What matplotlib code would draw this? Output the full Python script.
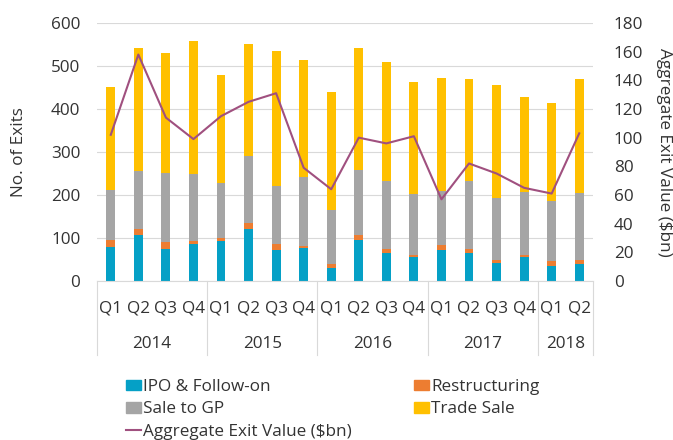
import matplotlib
matplotlib.use("Agg")
import matplotlib.pyplot as plt
from matplotlib.patches import Patch
from matplotlib.lines import Line2D

plt.rcParams['font.family'] = ['Open Sans', 'DejaVu Sans']
plt.rcParams['font.size'] = 12.3

# Quarterly exits by type (No. of exits) and aggregate value ($bn)
quarters = ['Q1', 'Q2', 'Q3', 'Q4'] * 4 + ['Q1', 'Q2']
years = ['2014', '2015', '2016', '2017', '2018']
year_sizes = [4, 4, 4, 4, 2]

ipo = [79, 108, 75, 85, 94, 122, 71, 77, 31, 96, 66, 55, 71, 65, 43, 56, 36, 40]
restructuring = [17, 14, 16, 9, 6, 12, 14, 5, 8, 10, 8, 5, 13, 9, 5, 4, 10, 8]
sale_to_gp = [115, 133, 160, 156, 129, 156, 135, 160, 127, 151, 159, 143, 125, 158, 146, 148, 141, 157]
trade_sale = [239, 288, 280, 309, 251, 262, 315, 273, 274, 285, 277, 260, 262, 237, 262, 220, 226, 265]
exit_value = [102, 158, 114, 99, 115, 125, 131, 79, 64, 100, 96, 101, 57, 82, 75, 65, 61, 103]

c_ipo = '#05A0C6'
c_restr = '#ED7D31'
c_gp = '#A5A5A5'
c_trade = '#FFC000'
c_line = '#A0507F'
txt = '#333333'
grid_c = '#D9D9D9'

fig = plt.figure(figsize=(6.73, 4.4), dpi=100)
ax = fig.add_axes([97 / 673, 1 - 281 / 440, 496 / 673, 258 / 440])

x = list(range(len(quarters)))
w = 0.32
b1 = ipo
b2 = [a + b for a, b in zip(b1, restructuring)]
b3 = [a + b for a, b in zip(b2, sale_to_gp)]
ax.bar(x, ipo, w, color=c_ipo, zorder=2)
ax.bar(x, restructuring, w, bottom=b1, color=c_restr, zorder=2)
ax.bar(x, sale_to_gp, w, bottom=b2, color=c_gp, zorder=2)
ax.bar(x, trade_sale, w, bottom=b3, color=c_trade, zorder=2)

ax.set_xlim(-0.5, len(x) - 0.5)
ax.set_ylim(0, 600)
ax.set_yticks(range(0, 601, 100))
ax.yaxis.grid(True, color=grid_c, linewidth=0.8, zorder=0)
ax.set_axisbelow(True)
for s in ['top', 'left', 'right']:
    ax.spines[s].set_visible(False)
ax.spines['bottom'].set_color(grid_c)
ax.spines['bottom'].set_linewidth(0.8)
ax.tick_params(axis='y', length=0, pad=12, colors=txt)
ax.set_xticks(x, quarters)
ax.tick_params(axis='x', length=0, pad=14.3, colors=txt)
ax.set_ylabel('No. of Exits', color=txt, labelpad=17)

# year groups below the quarter labels
trans = ax.get_xaxis_transform()
start = -0.5
ax.plot([start, start], [0, -0.287], color=grid_c, lw=0.8, transform=trans, clip_on=False)
for yr, n in zip(years, year_sizes):
    end = start + n
    ax.text((start + end) / 2, -0.243, yr, ha='center', va='center', color=txt, transform=trans)
    ax.plot([end, end], [0, -0.287], color=grid_c, lw=0.8, transform=trans, clip_on=False)
    start = end

ax2 = ax.twinx()
ax2.plot(x, exit_value, color=c_line, linewidth=1.5, zorder=3)
ax2.set_ylim(0, 180)
ax2.set_yticks(range(0, 181, 20))
for s in ['top', 'left', 'right', 'bottom']:
    ax2.spines[s].set_visible(False)
ax2.tick_params(axis='y', length=0, pad=15, colors=txt)
ax2.set_ylabel('Aggregate Exit Value ($bn)', color=txt, rotation=270, labelpad=21)

handles = [
    Patch(color=c_ipo, label='IPO & Follow-on'),
    Patch(color=c_gp, label='Sale to GP'),
    Line2D([], [], color=c_line, lw=1.5, label='Aggregate Exit Value ($bn)'),
    Patch(color=c_restr, label='Restructuring'),
    Patch(color=c_trade, label='Trade Sale'),
]
fig.legend(handles=handles, ncol=2, loc='upper left', bbox_to_anchor=(126 / 673, 1 - 379 / 440),
           frameon=False, borderpad=0, borderaxespad=0, handlelength=0.9, handleheight=0.6,
           handletextpad=0.1, labelspacing=0.38, columnspacing=3.64, labelcolor=txt)

fig.savefig('out.png', dpi=100)
